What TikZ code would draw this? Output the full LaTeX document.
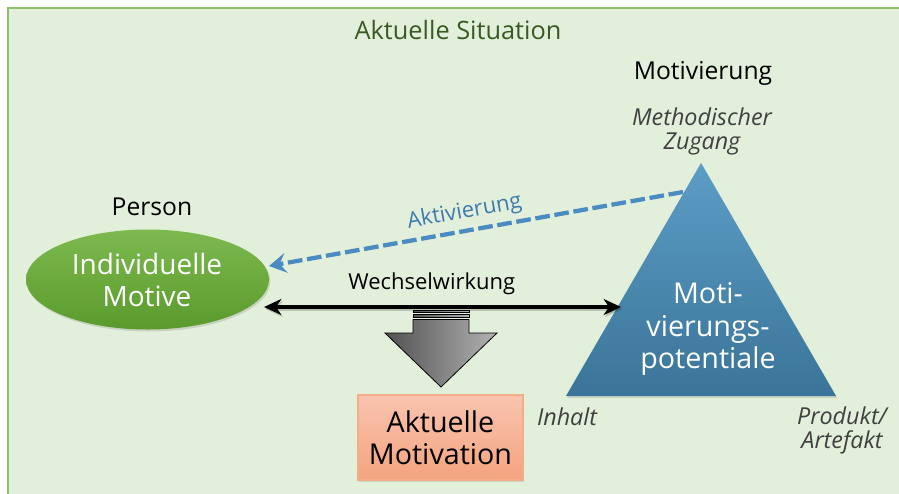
\documentclass[tikz,border=0pt]{standalone}
\usepackage{fontspec}
\setmainfont{Open Sans}
\usetikzlibrary{arrows.meta,shadows,calc}
\definecolor{bgfill}{HTML}{E2EFDA}
\definecolor{bgline}{HTML}{8CC06A}
\definecolor{titlegreen}{HTML}{3A5A24}
\definecolor{ellTop}{HTML}{7DB94F}
\definecolor{ellBot}{HTML}{5A9A2C}
\definecolor{triTop}{HTML}{5C9DC6}
\definecolor{triBot}{HTML}{3A7498}
\definecolor{boxTop}{HTML}{F9C4AF}
\definecolor{boxBot}{HTML}{F4A37F}
\definecolor{boxLine}{HTML}{F3AE88}
\definecolor{actblue}{HTML}{4A8CC2}
\definecolor{acttext}{HTML}{3E7BAE}
\definecolor{notegray}{HTML}{404040}
\newcommand{\pxfont}[1]{\fontsize{#1}{1.2\dimexpr#1pt\relax}\selectfont}
\tikzset{
  x=0.75pt, y=-0.75pt,
  lbl/.style={inner sep=0pt, align=center},
  headline/.style={lbl, font=\pxfont{18.5}},
  note/.style={lbl, text=notegray, font=\pxfont{17.5}\itshape},
  bigwhite/.style={lbl, text=white, font=\pxfont{21}},
  softshadow/.style={drop shadow={shadow xshift=1pt, shadow yshift=-1.5pt, opacity=0.2, fill=black!60}},
}
\begin{document}
\begin{tikzpicture}
\useasboundingbox (0,0) rectangle (899,493);
\fill[white] (0,0) rectangle (899,493);
% the situation frame
\begin{scope}
\clip (0,0) rectangle (899,493);
\draw[bgline, fill=bgfill, line width=1pt] (8,8) rectangle (910,505);
\end{scope}
\node[lbl, text=titlegreen, font=\pxfont{19}] (title) at (458,30) {Aktuelle Situation};

% person side
\node[headline] (person) at (152,207) {Person};
\path[softshadow, top color=ellTop, bottom color=ellBot]
  (147.5,279.5) ellipse [x radius=121.5, y radius=50];
\node[bigwhite] (motive) at (147,280) {Individuelle\\[-0.5pt]Motive};
\coordinate (ellAct) at (269,266);
\coordinate (ellInt) at (264,307);

% motivation side
\node[headline] (motiv) at (703,73) {Motivierung};
\node[note] (zugang) at (702,131) {Methodischer\\[-3pt]Zugang};
\coordinate (apex) at (701,163);
\coordinate (baseL) at (566,396);
\coordinate (baseR) at (836,396);
\path[softshadow, top color=triTop, bottom color=triBot]
  (apex) -- (baseR) -- (baseL) -- cycle;
\node[bigwhite, font=\pxfont{21.5}] (potential) at (708,329) {Moti-\\[-1pt]vierungs-\\[-1.5pt]potentiale};
\node[note] (inhalt) at (567,417) {Inhalt};
\node[note] (produkt) at (842,430) {Produkt/\\[-3pt]Artefakt};
\coordinate (triAct) at (683,192);
\coordinate (triInt) at (621,307);

% activation
\draw[actblue, line width=3.2pt, dash pattern=on 11pt off 3.5pt,
      -{Stealth[length=13pt, width=15pt, inset=5pt, sep=0pt]}]
  (triAct) -- (ellAct)
  node[pos=0.52, sloped, above=4pt, lbl, text=acttext, font=\pxfont{16.5}] (aktiv) {Aktivierung};

% interaction
\draw[black, line width=2.4pt,
      {Stealth[length=13pt, width=12pt, inset=4pt]}-{Stealth[length=13pt, width=12pt, inset=4pt]},
      preaction={draw=black, opacity=0.18, line width=3pt, transform canvas={xshift=1pt, yshift=-1.5pt}}]
  (ellInt) -- (triInt)
  node[pos=0.47, above=8pt, lbl, font=\pxfont{16.5}] (wechsel) {Wechselwirkung};

% resulting block arrow
\shade[left color=black!68, right color=black!30, draw=black, line width=0.6pt]
  (413,310) rectangle (469,312.5);
\shade[left color=black!68, right color=black!30, draw=black, line width=0.6pt]
  (413,314.5) rectangle (469,317.5);
\shade[left color=black!68, right color=black!30, draw=black, line width=0.6pt]
  (413,319.5) -- (469,319.5) -- (469,333) -- (497,333) -- (441,387) -- (385,333) -- (413,333) -- cycle;
\coordinate (arrowTip) at (441,387);

% current motivation
\node[softshadow, draw=boxLine, line width=0.8pt, top color=boxTop, bottom color=boxBot,
      minimum width=165*0.75pt, minimum height=85*0.75pt, inner sep=0pt, align=center,
      font=\pxfont{21.5}] (current) at (440.5,437.5) {Aktuelle\\[-2pt]Motivation};
\end{tikzpicture}
\end{document}
